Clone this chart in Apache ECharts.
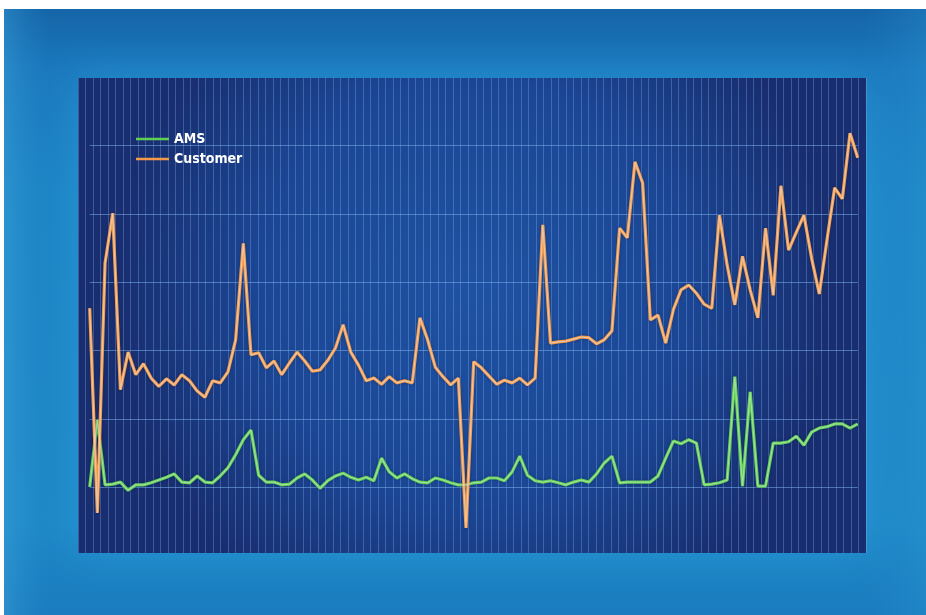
<!DOCTYPE html>
<html>
<head>
<meta charset="utf-8">
<style>
  html, body { margin: 0; padding: 0; background: #ffffff; }
  #chart { width: 926px; height: 615px; }
</style>
<script src="https://cdn.jsdelivr.net/npm/echarts@6/dist/echarts.min.js"></script>
</head>
<body>
<div id="chart"></div>
<script>
// Sample positions along the horizontal axis (no labels are shown)
const samples = Array.from({ length: 101 }, (_, i) => String(i + 1));

// Series names shown in the legend
const seriesNames = ['AMS', 'Customer'];

// AMS readings per sample
const amsValues = [
  101, 199, 104, 105, 108, 96, 104, 104, 107, 111,
  115, 120, 108, 107, 117, 108, 107, 117, 129, 148,
  170, 184, 118, 108, 108, 104, 105, 114, 120, 111,
  99, 110, 117, 121, 115, 111, 115, 110, 143, 123,
  114, 120, 113, 108, 107, 114, 111, 107, 104, 104,
  107, 108, 114, 114, 110, 123, 146, 118, 110, 108,
  110, 107, 104, 108, 111, 108, 120, 136, 146, 107,
  108, 108, 108, 108, 117, 143, 168, 164, 170, 165,
  104, 105, 107, 111, 262, 102, 240, 102, 102, 165,
  165, 167, 175, 162, 181, 187, 189, 193, 193, 187,
  193
];

// Customer readings per sample
const customerValues = [
  362, 63, 428, 501, 243, 298, 265, 281, 260, 248,
  259, 250, 265, 256, 241, 232, 256, 253, 269, 316,
  457, 294, 297, 275, 285, 265, 282, 298, 285, 270,
  272, 286, 304, 338, 298, 279, 256, 260, 251, 262,
  253, 256, 253, 348, 316, 276, 262, 250, 260, 41,
  284, 275, 263, 251, 257, 253, 260, 250, 260, 484,
  311, 313, 314, 317, 320, 319, 310, 316, 329, 479,
  465, 576, 545, 345, 352, 311, 360, 389, 396, 384,
  368, 362, 498, 425, 367, 438, 389, 348, 479, 381,
  541, 447, 473, 498, 435, 383, 462, 538, 522, 618,
  582
];

// Value axis range and step
const yMin = 0;
const yMax = 700;
const yStep = 100;

const chart = echarts.init(document.getElementById('chart'), null, { renderer: 'canvas' });

const panel = { x: 78, y: 78, w: 788, h: 475 };

function mainLine(name, data, color, core) {
  return [
    {
      name: name,
      type: 'line',
      xAxisIndex: 1,
      yAxisIndex: 1,
      data: data,
      symbol: 'none',
      smooth: false,
      z: 3,
      lineStyle: { color: color, width: 3.2, shadowColor: 'rgba(10,20,60,0.35)', shadowBlur: 3 },
      itemStyle: { color: color },
      emphasis: { disabled: true }
    },
    {
      name: name + ' core',
      type: 'line',
      xAxisIndex: 1,
      yAxisIndex: 1,
      data: data,
      symbol: 'none',
      silent: true,
      z: 4,
      lineStyle: { color: core, width: 1.2 },
      emphasis: { disabled: true },
      tooltip: { show: false }
    }
  ];
}

const option = {
  animation: false,
  backgroundColor: 'transparent',
  graphic: {
    elements: [
      {
        type: 'rect',
        z: -20,
        shape: { x: 4, y: 9, width: 922, height: 606 },
        style: {
          fill: new echarts.graphic.LinearGradient(0, 0, 0, 1, [
            { offset: 0, color: '#1565a8' },
            { offset: 0.1, color: '#1a78bc' },
            { offset: 0.3, color: '#1d84c4' },
            { offset: 0.85, color: '#1e87c6' },
            { offset: 1, color: '#1a7cbe' }
          ])
        }
      },
      {
        type: 'rect',
        z: -19,
        shape: { x: 4, y: 9, width: 922, height: 606 },
        style: {
          fill: new echarts.graphic.LinearGradient(0, 0, 1, 0, [
            { offset: 0, color: 'rgba(70,175,225,0.35)' },
            { offset: 0.05, color: 'rgba(40,140,210,0.0)' },
            { offset: 0.93, color: 'rgba(40,140,210,0.0)' },
            { offset: 1, color: 'rgba(50,160,220,0.25)' }
          ])
        }
      },
      {
        type: 'rect',
        z: -18,
        shape: { x: panel.x, y: panel.y, width: panel.w, height: panel.h },
        style: {
          fill: new echarts.graphic.RadialGradient(0.5, 0.45, 0.75, [
            { offset: 0, color: '#1e52a3' },
            { offset: 0.6, color: '#1b4694' },
            { offset: 1, color: '#182e70' }
          ]),
          shadowColor: 'rgba(50,170,230,0.45)',
          shadowBlur: 40
        }
      }
    ]
  },
  legend: {
    data: seriesNames,
    orient: 'vertical',
    left: 131,
    top: 127,
    itemWidth: 33,
    itemHeight: 14,
    itemGap: 6,
    icon: 'path://M0,6 L33,6 L33,8.5 L0,8.5 Z',
    textStyle: {
      color: '#ffffff',
      fontSize: 14,
      fontWeight: 'bold',
      fontFamily: '"Liberation Sans Narrow", "DejaVu Sans Condensed", "Roboto", sans-serif'
    },
    selectedMode: false
  },
  grid: [
    // background panel with its fine vertical rulings
    { left: panel.x, top: panel.y, width: panel.w, height: panel.h, show: false },
    // plotting area for the two series
    { left: 89.7, right: 68.3, top: 77, bottom: 59, show: false }
  ],
  xAxis: [
    {
      gridIndex: 0,
      type: 'value',
      min: 0,
      max: 105,
      interval: 1,
      axisLine: { show: false },
      axisTick: { show: false },
      axisLabel: { show: false },
      splitLine: { show: true, lineStyle: { color: 'rgba(140,185,240,0.32)', width: 1 } }
    },
    {
      gridIndex: 1,
      type: 'category',
      data: samples,
      boundaryGap: false,
      axisLine: { show: false },
      axisTick: { show: false },
      axisLabel: { show: false },
      splitLine: { show: false }
    }
  ],
  yAxis: [
    {
      gridIndex: 0,
      type: 'value',
      show: false,
      splitLine: { show: false }
    },
    {
      gridIndex: 1,
      type: 'value',
      min: yMin,
      max: yMax,
      interval: yStep,
      axisLine: { show: false },
      axisTick: { show: false },
      axisLabel: { show: false },
      splitLine: {
        show: true,
        showMinLine: false,
        showMaxLine: false,
        lineStyle: { color: 'rgba(120,175,235,0.55)', width: 1 }
      }
    }
  ],
  series: [
    ...mainLine(seriesNames[0], amsValues, '#5fce55', 'rgba(215,240,205,0.55)'),
    ...mainLine(seriesNames[1], customerValues, '#f29a4a', 'rgba(235,225,220,0.6)')
  ]
};

chart.setOption(option);
</script>
</body>
</html>
